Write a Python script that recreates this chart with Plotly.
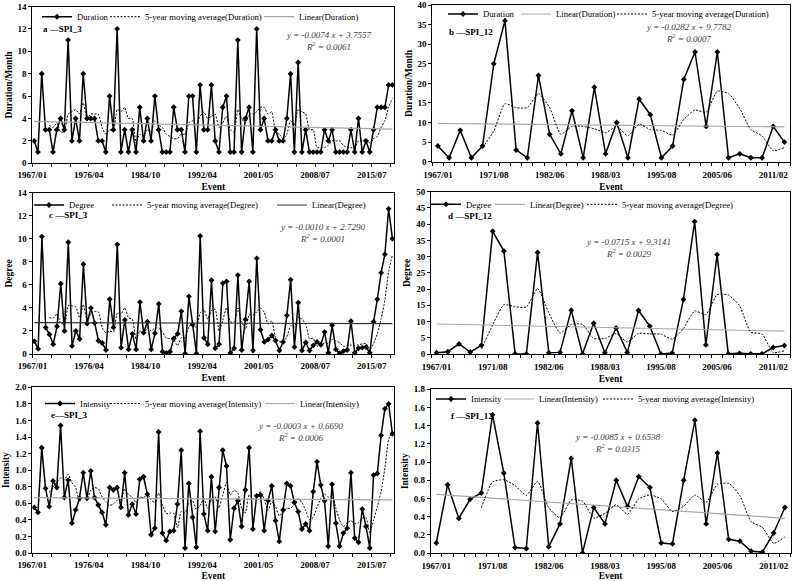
import pandas as pd
import plotly.graph_objects as go

W, H = 796, 581
FONT = "Liberation Serif"
GRAY = "#a6a6a6"

# tick labels of the event axes
ticks_spi3 = ["1967/01", "1976/04", "1984/10", "1992/04", "2001/05", "2008/07", "2015/07"]
ticks_spi12 = ["1967/01", "1971/08", "1982/06", "1988/03", "1995/08", "2005/06", "2011/02"]

# SPI_3 events (96)
dur3 = [2, 1, 8, 3, 3, 1, 3, 4, 3, 11, 2, 4, 2, 8, 4, 4, 4, 2, 2, 1,
        6, 3, 12, 1, 3, 1, 3, 1, 5, 2, 4, 2, 6, 3, 1, 1, 1, 5, 3, 3,
        1, 6, 6, 1, 7, 3, 3, 7, 2, 1, 5, 6, 1, 1, 11, 1, 4, 5, 1, 12,
        3, 4, 2, 2, 3, 2, 2, 4, 8, 1, 9, 1, 3, 1, 1, 1, 1, 3, 2, 3,
        1, 1, 1, 1, 3, 1, 4, 1, 2, 1, 3, 5, 5, 5, 7, 7]
deg3 = [1.1, 0.45, 10.2, 2.3, 1.7, 0.85, 2.4, 6.1, 2.0, 9.7, 0.7, 2.0, 1.3, 7.8, 2.65, 4.0, 2.7, 1.15, 0.95, 0.35,
        4.75, 2.3, 9.5, 0.55, 2.95, 0.4, 1.75, 0.4, 4.5, 1.85, 2.8, 0.4, 1.8, 4.35, 0.2, 0.1, 0.2, 1.35, 1.75, 3.7,
        0.05, 5.0, 2.55, 0.05, 10.25, 1.4, 0.85, 6.4, 0.5, 0.85, 6.15, 6.3, 0.1, 0.5, 6.85, 0.35, 3.0, 6.3, 0.3, 8.3,
        2.1, 1.05, 1.25, 1.6, 1.15, 0.3, 1.05, 3.35, 6.45, 0.6, 4.45, 0.3, 1.0, 0.3, 0.75, 1.05, 0.8, 1.9, 0.1, 2.5,
        0.4, 0.05, 0.25, 0.35, 2.85, 0.1, 0.5, 0.55, 0.6, 0.1, 2.8, 4.75, 7.05, 8.65, 12.6, 10.0]
int3 = [0.55, 0.49, 1.27, 0.78, 0.56, 0.87, 0.79, 1.54, 0.67, 0.88, 0.36, 0.52, 0.66, 0.97, 0.66, 0.99, 0.67, 0.58, 0.49, 0.34,
        0.79, 0.76, 0.79, 0.55, 0.97, 0.46, 0.59, 0.47, 0.89, 0.92, 0.71, 0.22, 0.30, 1.46, 0.24, 0.15, 0.26, 0.27, 0.59, 1.24,
        0.06, 0.84, 0.43, 0.07, 1.47, 0.47, 0.27, 0.92, 0.26, 0.79, 1.24, 1.05, 0.16, 0.54, 0.63, 0.32, 0.76, 1.27, 0.29, 0.69,
        0.70, 0.27, 0.63, 0.81, 0.39, 0.14, 0.52, 0.84, 0.81, 0.61, 0.50, 0.29, 0.35, 0.27, 0.74, 1.10, 0.82, 0.63, 0.08, 0.83,
        0.36, 0.08, 0.24, 0.30, 0.97, 0.18, 0.13, 0.53, 0.32, 0.06, 0.94, 0.96, 1.42, 1.74, 1.80, 1.44]

# SPI_12 events (32)
dur12 = [4, 1, 8, 1, 4, 25, 36, 3, 1, 22, 7, 2, 13, 1, 19, 2, 10, 1, 16, 12,
         1, 4, 21, 28, 9, 28, 1, 2, 1, 1, 9, 5]
deg12 = [0.4, 0.7, 3.1, 0.6, 2.7, 37.8, 31.7, 0.05, 0.0, 31.3, 0.4, 0.5, 13.5, 0.0, 9.5, 0.4, 8.0, 0.5, 13.4, 8.6,
         0.0, 0.3, 16.8, 40.8, 2.8, 30.6, 0.05, 0.2, 0.05, 0.05, 2.0, 2.6]
int12 = [0.11, 0.75, 0.38, 0.59, 0.66, 1.52, 0.88, 0.06, 0.05, 1.43, 0.07, 0.32, 1.04, 0.0, 0.50, 0.32, 0.80, 0.51, 0.84, 0.72,
         0.11, 0.10, 0.80, 1.46, 0.32, 1.10, 0.15, 0.13, 0.02, 0.01, 0.22, 0.50]

# linear trendline equations shown on the chart (slope, intercept, R2)
fit_dur3 = (-0.0074, 3.7557, "0.0061")
fit_dur12 = (-0.0282, 9.7782, "0.0007")
fit_deg3 = (-0.0010, 2.7290, "0.0001")
fit_deg12 = (-0.0715, 9.3141, "0.0029")
fit_int3 = (-0.0003, 0.6690, "0.0006")
fit_int12 = (-0.0085, 0.6538, "0.0315")

# box = plot area in pixels (left, top, right, bottom); leg = x where each legend text starts + row y
panels = [
    dict(vals=dur3, ticks=ticks_spi3, name="Duration", ytitle="Duration/Month", fit=fit_dur3, yr=(0, 14), dt=2, fmt="d",
         tag="a \u2014SPI_3", box=(32.3, 6.5, 394.3, 163.3), order=("s", "ma", "lin"), lin=GRAY,
         leg=((77, 145, 299), 16.7), eq=(328, 41), lab=(41, 29)),
    dict(vals=dur12, ticks=ticks_spi12, name="Duration", ytitle="Duration/Month", fit=fit_dur12, yr=(0, 40), dt=5, fmt="d",
         tag="b \u2014SPI_12", box=(432.3, 5, 790, 161.7), order=("s", "lin", "ma"), lin=GRAY,
         leg=((483, 556, 652), 14), eq=(688, 33), lab=(447, 32)),
    dict(vals=deg3, ticks=ticks_spi3, name="Degree", ytitle="Degree", fit=fit_deg3, yr=(0, 14), dt=2, fmt="d",
         tag="c \u2014SPI_3", box=(32.5, 192.7, 394.3, 354), order=("s", "ma", "lin"), lin="#303030",
         leg=((69, 147, 312), 205), eq=(322, 233), lab=(47, 215)),
    dict(vals=deg12, ticks=ticks_spi12, name="Degree", ytitle="Degree", fit=fit_deg12, yr=(0, 50), dt=5, fmt="d",
         tag="d \u2014SPI_12", box=(431, 191.7, 790, 354), order=("s", "lin", "ma"), lin=GRAY,
         leg=((466, 530, 622), 204.3), eq=(628, 248), lab=(446, 216)),
    dict(vals=int3, ticks=ticks_spi3, name="Intensity", ytitle="Intensity", fit=fit_int3, yr=(0, 2.0), dt=0.2, fmt=".1f",
         tag="e\u2014SPI_3", box=(32.3, 387.3, 394.3, 553), order=("s", "ma", "lin"), lin=GRAY,
         leg=((80, 145, 300), 403.5), eq=(300, 432), lab=(49, 415)),
    dict(vals=int12, ticks=ticks_spi12, name="Intensity", ytitle="Intensity", fit=fit_int12, yr=(0, 1.8), dt=0.2, fmt=".1f",
         tag="f \u2014SPI_12", box=(430.7, 389.3, 790.5, 553), order=("s", "lin", "ma"), lin=GRAY,
         leg=((471, 539, 638), 399), eq=(617, 443), lab=(449, 416)),
]

fig = go.Figure()
annotations = []
tickfont = dict(family=FONT, size=9, color="black", weight="bold")
titlefont = dict(family=FONT, size=9.5, color="black", weight="bold")
leg_n = 0

for i, p in enumerate(panels, start=1):
    sfx = "" if i == 1 else str(i)
    xa, ya = "x" + sfx, "y" + sfx
    vals = p["vals"]
    n = len(vals)
    idx = list(range(n))
    ma = pd.Series(vals).rolling(5).mean()
    slope, icpt, r2 = p["fit"]
    lin_x = [idx[0], idx[-1]]
    lin_y = [slope * (x + 1) + icpt for x in lin_x]

    traces = {
        "s": go.Scatter(x=idx, y=vals, mode="lines+markers", name=p["name"],
                        line=dict(color="black", width=1.5),
                        marker=dict(symbol="diamond", size=4.5, color="black")),
        "ma": go.Scatter(x=idx, y=ma, mode="lines", name=f"5-year moving average({p['name']})",
                         line=dict(color="black", width=1, dash="2px,1.5px", shape="spline", smoothing=0.5)),
        "lin": go.Scatter(x=lin_x, y=lin_y, mode="lines", name=f"Linear({p['name']})",
                          line=dict(color=p["lin"], width=1.2)),
    }
    # one small legend per entry so each entry sits where the reference has it
    leg_xs, leg_y = p["leg"]
    for key, tx0 in zip(p["order"], leg_xs):
        leg_n += 1
        lg = "legend" if leg_n == 1 else f"legend{leg_n}"
        tr = traces[key]
        tr.update(xaxis=xa, yaxis=ya, legend=lg)
        fig.add_trace(tr)
        fig.update_layout({lg: dict(x=(tx0 - 40) / W, y=1 - leg_y / H, xanchor="left", yanchor="middle",
                                    xref="paper", yref="paper", bgcolor="rgba(0,0,0,0)", visible=True,
                                    font=dict(family=FONT, size=8.7, color="black"),
                                    itemwidth=30, tracegroupgap=0)})

    l, t, r, b = p["box"]
    if n > 40:
        tickvals = [k * 15 - 0.5 for k in range(len(p["ticks"]))]
        xaxis = dict(tickvals=tickvals, ticktext=p["ticks"], ticks="outside", ticklen=3,
                     minor=dict(ticks="outside", tick0=-0.5, dtick=5, ticklen=3, tickcolor="black"))
    else:
        tickvals = [k * 5 for k in range(len(p["ticks"]))]
        xaxis = dict(tickvals=tickvals, ticktext=p["ticks"], ticks="", ticklabelstandoff=4,
                     minor=dict(ticks="outside", tick0=-0.5, dtick=1, ticklen=3, tickcolor="black"))
    xaxis.update(domain=[l / W, r / W], anchor=ya, range=[-0.5, n - 0.5], automargin=False,
                 showline=True, linecolor="black", linewidth=1, mirror=True, showgrid=False, zeroline=False,
                 tickcolor="black", tickfont=tickfont,
                 title=dict(text="Event", standoff=4, font=titlefont))
    yaxis = dict(domain=[1 - b / H, 1 - t / H], anchor=xa, range=list(p["yr"]), dtick=p["dt"], tick0=0,
                 tickformat=p["fmt"], showline=True, linecolor="black", linewidth=1, mirror=True, automargin=False,
                 showgrid=False, zeroline=False, ticks="outside", ticklen=3, tickcolor="black",
                 tickfont=tickfont, title=dict(text=p["ytitle"], standoff=3, font=titlefont))
    fig.update_layout({"xaxis" + sfx: xaxis, "yaxis" + sfx: yaxis})

    ex, ey = p["eq"]
    sign = "-" if slope < 0 else "+"
    eq_text = (f"<i>y = {sign}{abs(slope):.4f} x + {icpt:.4f}</i><br>"
               f"<i>R<sup>2</sup> = {r2}</i>")
    annotations.append(dict(text=eq_text, x=ex / W, y=1 - ey / H, xref="paper", yref="paper",
                            xanchor="center", yanchor="middle", showarrow=False, align="center",
                            font=dict(family=FONT, size=9, color="#404040")))
    tx, ty = p["lab"]
    annotations.append(dict(text=f"<b>{p['tag']}</b>", x=tx / W, y=1 - ty / H, xref="paper", yref="paper",
                            xanchor="left", yanchor="middle", showarrow=False,
                            font=dict(family=FONT, size=9, color="black")))

fig.update_layout(width=W, height=H, margin=dict(l=0, r=0, t=0, b=0, autoexpand=False), showlegend=True,
                  paper_bgcolor="white", plot_bgcolor="white", annotations=annotations,
                  font=dict(family=FONT, color="black"))

# page body has a default 8px margin; drop it so the 796x581 figure fills the window
fig.write_html("out.html", config={"displayModeBar": False},
               post_script="document.body.style.margin='0';")
